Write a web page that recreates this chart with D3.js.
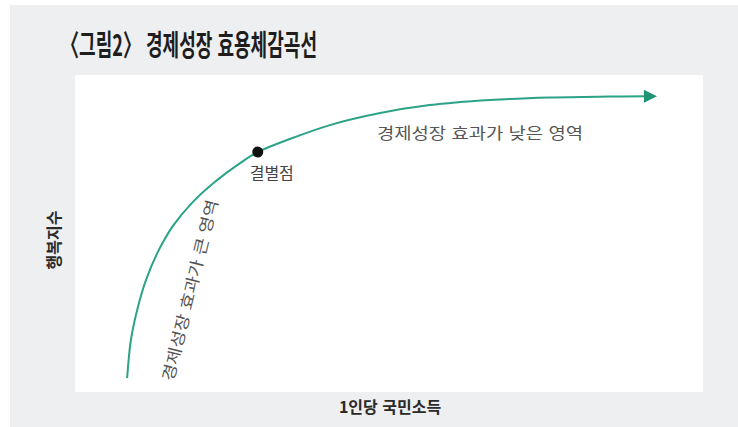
<!DOCTYPE html>
<html lang="ko">
	<head>
		<meta charset="utf-8">
		<title>경제성장 효용체감곡선</title>
		<script type="text/javascript" src="https://cdn.jsdelivr.net/npm/d3@7"></script>
		<style type="text/css">
			body { margin: 0; background: #fff; }
			text { font-family: "Noto Sans CJK KR", "Noto Sans", sans-serif; }
		</style>
	</head>
	<body>
		<script type="text/javascript">
			// curve (income index 0-100, happiness index 0-100)
			var income    = [8.3, 8.9, 9.9, 11.3, 13.2, 15.6, 18.6, 22.3, 26.3, 29.1, 34.2, 40.6, 48.6, 56.5, 66.1, 75.6, 85.2, 90.8];
			var happiness = [4.4, 16.4, 25.9, 35.3, 44.2, 52.4, 59.6, 66.3, 72.2, 75.7, 79.8, 84.2, 88.0, 90.5, 92.1, 92.9, 93.2, 93.3];
			// the turning point
			var turnPoint = [29.1, 75.7];

			var titleText = "〈그림2〉 경제성장 효용체감곡선";
			var xLabel = "1인당 국민소득";
			var yLabel = "행복지수";
			var turnLabel = "결별점";
			var lowLabel = "경제성장 효과가 낮은 영역";
			var highLabel = "경제성장 효과가 큰 영역";

			//Width and height
			var w = 738;
			var h = 427;
			var plot = {left: 75, top: 75, right: 703, bottom: 392};

			var svg = d3.select("body")
						.append("svg")
						.attr("width", w)
						.attr("height", h);

			//gray frame and white plot box
			svg.append("rect")
				.attr("x", 10).attr("y", 5)
				.attr("width", w - 10).attr("height", h - 5)
				.attr("fill", "#eeeff1");
			svg.append("rect")
				.attr("x", plot.left).attr("y", plot.top)
				.attr("width", plot.right - plot.left)
				.attr("height", plot.bottom - plot.top)
				.attr("fill", "#ffffff");

			var xScale = d3.scaleLinear()
				.domain([0, 100])
				.range([plot.left, plot.right]);
			var yScale = d3.scaleLinear()
				.domain([0, 100])
				.range([plot.bottom, plot.top]);

			var data = income.map(function(d, i) { return [d, happiness[i]]; });

			//arrow head
			svg.append("defs").append("marker")
				.attr("id", "arrow")
				.attr("viewBox", "0 0 10 10")
				.attr("refX", 1).attr("refY", 5)
				.attr("markerWidth", 8).attr("markerHeight", 6.5)
				.attr("markerUnits", "strokeWidth")
				.attr("orient", "auto")
				.append("path")
				.attr("d", "M0,0 L10,5 L0,10 Z")
				.attr("fill", "#1e9474");

			var line = d3.line()
				.x(function(d) { return xScale(d[0]); })
				.y(function(d) { return yScale(d[1]); })
				.curve(d3.curveCatmullRom.alpha(0.5));

			svg.append("path")
				.datum(data)
				.attr("d", line)
				.attr("fill", "none")
				.attr("stroke", "#2ba386")
				.attr("stroke-width", 2)
				.attr("marker-end", "url(#arrow)");

			svg.append("circle")
				.attr("cx", xScale(turnPoint[0]))
				.attr("cy", yScale(turnPoint[1]))
				.attr("r", 5.5)
				.attr("fill", "#111");

			//title
			svg.append("text")
				.attr("x", 61).attr("y", 56)
				.attr("textLength", 256)
				.attr("lengthAdjust", "spacingAndGlyphs")
				.style("font-size", "29px")
				.style("font-weight", "bold")
				.attr("fill", "#1e1e1e")
				.text(titleText);

			//axis labels
			svg.append("text")
				.attr("x", 390).attr("y", 413)
				.attr("text-anchor", "middle")
				.style("font-size", "16px")
				.style("font-weight", "bold")
				.attr("fill", "#2a2a2a")
				.text(xLabel);

			svg.append("text")
				.attr("transform", "translate(53,240) rotate(-90)")
				.attr("text-anchor", "middle")
				.attr("dominant-baseline", "central")
				.style("font-size", "16px")
				.style("font-weight", "bold")
				.attr("fill", "#2a2a2a")
				.text(yLabel);

			//annotations
			svg.append("text")
				.attr("x", xScale(turnPoint[0]) + 14)
				.attr("y", yScale(turnPoint[1]) + 27)
				.attr("text-anchor", "middle")
				.style("font-size", "16px")
				.attr("fill", "#444")
				.text(turnLabel);

			svg.append("text")
				.attr("x", 377).attr("y", 139)
				.attr("textLength", 206)
				.attr("lengthAdjust", "spacingAndGlyphs")
				.style("font-size", "16px")
				.attr("fill", "#555")
				.text(lowLabel);

			svg.append("text")
				.attr("transform", "translate(189,290) rotate(-76)")
				.attr("text-anchor", "middle")
				.attr("dominant-baseline", "central")
				.attr("textLength", 186)
				.attr("lengthAdjust", "spacingAndGlyphs")
				.style("font-size", "16px")
				.attr("fill", "#555")
				.text(highLabel);
		</script>
	</body>
</html>
